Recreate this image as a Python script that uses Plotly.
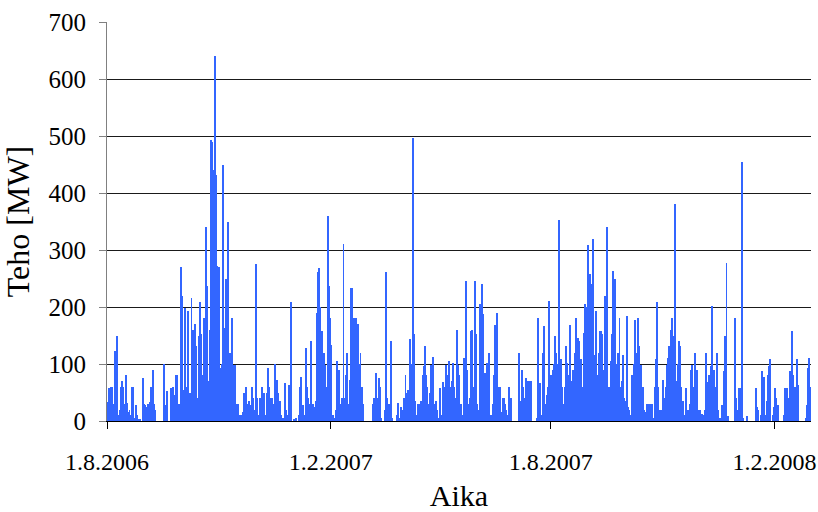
import pandas as pd
import plotly.graph_objects as go

# Daily peak power [MW], one value per day starting 1.8.2006
start_date = "2006-08-01"
daily_peak_mw = [
    34, 58, 34, 60, 60, 30, 122, 60, 149, 10,
    20, 60, 70, 60, 30, 80, 31, 15, 20, 10,
    60, 60, 5, 28, 10, 2, 0, 3, 0, 75,
    30, 28, 25, 30, 20, 34, 60, 90, 30, 20,
    0, 0, 0, 0, 0, 0, 100, 28, 20, 52,
    0, 0, 58, 52, 60, 45, 80, 80, 20, 30,
    270, 219, 55, 40, 199, 60, 193, 0, 50, 216,
    160, 60, 170, 131, 40, 149, 208, 152, 80, 181,
    100, 340, 237, 70, 160, 493, 490, 440, 641, 431,
    272, 150, 270, 93, 100, 450, 163, 249, 166, 349,
    80, 119, 181, 20, 99, 99, 30, 30, 5, 10,
    10, 15, 49, 20, 60, 30, 35, 5, 28, 59,
    40, 20, 276, 40, 10, 40, 20, 60, 49, 49,
    10, 49, 93, 60, 40, 40, 20, 30, 100, 72,
    49, 30, 35, 10, 5, 5, 66, 20, 10, 64,
    30, 209, 0, 3, 0, 5, 0, 10, 60, 78,
    28, 28, 10, 128, 60, 40, 30, 141, 30, 30,
    25, 35, 190, 261, 269, 200, 158, 100, 119, 99,
    60, 360, 237, 181, 134, 10, 5, 5, 20, 105,
    90, 30, 30, 40, 311, 40, 80, 119, 30, 72,
    234, 234, 150, 181, 181, 80, 170, 100, 119, 60,
    30, 0, 0, 0, 0, 0, 0, 0, 30, 40,
    30, 84, 40, 75, 60, 5, 0, 0, 20, 261,
    40, 30, 30, 140, 5, 0, 0, 0, 10, 31,
    5, 25, 5, 20, 40, 81, 50, 55, 40, 143,
    100, 496, 152, 35, 10, 30, 30, 5, 35, 80,
    96, 131, 80, 60, 30, 50, 99, 40, 113, 30,
    35, 20, 5, 58, 10, 5, 69, 60, 99, 80,
    80, 105, 60, 70, 102, 60, 40, 160, 99, 80,
    30, 30, 10, 111, 60, 246, 90, 30, 40, 158,
    160, 60, 246, 152, 30, 20, 205, 205, 240, 187,
    84, 60, 102, 80, 119, 10, 10, 30, 80, 169,
    190, 60, 40, 60, 15, 40, 40, 30, 20, 10,
    60, 15, 40, 0, 0, 0, 0, 0, 119, 20,
    35, 90, 60, 40, 75, 60, 70, 70, 70, 0,
    0, 0, 0, 5, 181, 10, 66, 10, 119, 166,
    30, 45, 60, 211, 69, 80, 90, 100, 149, 120,
    100, 352, 60, 108, 60, 30, 60, 131, 102, 80,
    169, 70, 60, 90, 119, 181, 119, 146, 140, 108,
    60, 60, 155, 205, 200, 308, 243, 258, 240, 319,
    116, 93, 193, 80, 119, 158, 158, 152, 90, 219,
    150, 341, 60, 50, 105, 152, 264, 249, 100, 72,
    120, 180, 60, 70, 116, 40, 35, 184, 25, 20,
    10, 81, 30, 100, 178, 120, 181, 131, 80, 99,
    60, 20, 15, 5, 30, 30, 10, 30, 30, 5,
    60, 108, 208, 60, 20, 15, 20, 72, 40, 60,
    99, 111, 131, 160, 181, 150, 100, 380, 70, 100,
    140, 131, 60, 35, 10, 5, 58, 20, 20, 30,
    90, 99, 60, 119, 60, 90, 20, 20, 10, 12,
    10, 20, 119, 60, 69, 80, 96, 202, 80, 90,
    60, 119, 20, 0, 5, 28, 10, 87, 150, 278,
    8, 0, 0, 0, 0, 0, 181, 40, 20, 58,
    58, 30, 455, 5, 0, 0, 8, 0, 0, 0,
    0, 0, 0, 58, 25, 20, 0, 10, 87, 60,
    78, 10, 35, 80, 96, 108, 0, 10, 25, 58,
    40, 28, 0, 0, 0, 0, 10, 58, 10, 58,
    40, 87, 60, 158, 80, 60, 40, 108, 64, 0,
    0, 0, 0, 0, 5, 28, 93, 111, 60,
]

tick_dates = ["2006-08-01", "2007-02-01", "2007-08-01", "2008-02-01"]
tick_labels = ["1.8.2006", "1.2.2007", "1.8.2007", "1.2.2008"]
y_ticks = [0, 100, 200, 300, 400, 500, 600, 700]

days = pd.date_range(start_date, periods=len(daily_peak_mw), freq="D")
DAY_MS = 86400000

fig = go.Figure(
    go.Bar(
        x=days,
        y=daily_peak_mw,
        xperiod=DAY_MS,
        xperiodalignment="middle",
        width=0.8 * DAY_MS,
        marker=dict(color="#3366FF", line=dict(width=0)),
        hoverinfo="x+y",
    )
)

serif = "Liberation Serif, Times New Roman, serif"

fig.update_layout(
    width=818,
    height=512,
    margin=dict(l=107, r=7, t=22, b=91),
    paper_bgcolor="white",
    plot_bgcolor="white",
    bargap=0,
    showlegend=False,
    font=dict(family=serif, color="black", size=24),
)

fig.update_xaxes(
    type="date",
    range=["2006-08-01", "2008-03-02"],
    tickmode="array",
    tickvals=tick_dates,
    ticktext=tick_labels,
    ticks="outside",
    ticklen=7,
    tickcolor="black",
    tickfont=dict(family=serif, size=24, color="black"),
    ticklabelstandoff=12,
    ticklabeloverflow="allow",
    automargin=False,
    showgrid=False,
    showline=True,
    linecolor="black",
    linewidth=1,
    zeroline=False,
    title=dict(text="Aika", font=dict(family=serif, size=30, color="black"), standoff=14),
)

fig.update_yaxes(
    range=[0, 700],
    tickmode="array",
    tickvals=y_ticks,
    ticks="outside",
    ticklen=7,
    tickcolor="#808080",
    tickfont=dict(family=serif, size=25, color="black"),
    ticklabelstandoff=8,
    automargin=False,
    showgrid=True,
    gridcolor="#1a1a1a",
    gridwidth=1,
    showline=True,
    linecolor="#808080",
    linewidth=1,
    zeroline=False,
    title=dict(text="Teho [MW]", font=dict(family=serif, size=32, color="black"), standoff=16),
)

fig.write_html("out.html")
